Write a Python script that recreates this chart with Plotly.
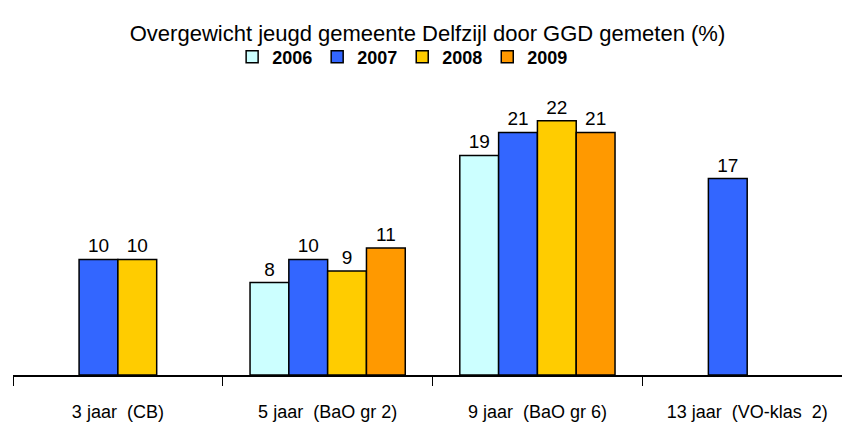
import plotly.graph_objects as go

categories = ["3 jaar  (CB)", "5 jaar  (BaO gr 2)", "9 jaar  (BaO gr 6)", "13 jaar  (VO-klas  2)"]
years = ["2006", "2007", "2008", "2009"]
v2006 = [None, 8, 19, None]
v2007 = [10, 10, 21, 17]
v2008 = [10, 9, 22, None]
v2009 = [None, 11, 21, None]
colors = ["#CCFFFF", "#3366FF", "#FFCC00", "#FF9900"]

FONT = "Liberation Sans, Arial, sans-serif"

fig = go.Figure()
for name, vals, col in zip(years, [v2006, v2007, v2008, v2009], colors):
    fig.add_trace(go.Bar(
        x=categories, y=vals, name=name,
        marker=dict(color=col, line=dict(color="black", width=1.5)),
        text=[("" if v is None else str(v)) for v in vals],
        textposition="outside", cliponaxis=False,
        textfont=dict(family=FONT, size=19, color="black"),
    ))

fig.update_layout(
    width=842, height=428,
    margin=dict(l=13, r=0, t=70, b=53, autoexpand=False),
    paper_bgcolor="white", plot_bgcolor="white",
    barmode="group", bargap=0.26, bargroupgap=0,
    title=dict(text="Overgewicht jeugd gemeente Delfzijl door GGD gemeten (%)",
               x=0.5, xanchor="center", xref="paper", y=1 - 33 / 428, yanchor="middle", yref="container",
               font=dict(family=FONT, size=22, color="black")),
    legend=dict(orientation="h", x=0.47, xanchor="center", xref="paper",
                y=1 - 57 / 428, yanchor="middle", yref="container",
                font=dict(family=FONT, size=18, color="black", weight="bold"),
                itemwidth=30, traceorder="normal", tracegroupgap=0, entrywidth=0),
    showlegend=True,
)
fig.update_xaxes(
    type="category", range=[-0.5, 3.452], automargin=False,
    showline=True, linecolor="black", linewidth=1.5,
    ticks="outside", tickson="boundaries", ticklen=9, tickcolor="black", tickwidth=1,
    tickfont=dict(family=FONT, size=18, color="black"),
    ticklabelstandoff=20, showgrid=False,
)
fig.update_yaxes(range=[0, 26.4], visible=False, showgrid=False, zeroline=False, automargin=False)

fig.write_html("out.html", config={"displayModeBar": False},
               post_script="document.body.style.margin='0';document.body.style.overflow='hidden';")
